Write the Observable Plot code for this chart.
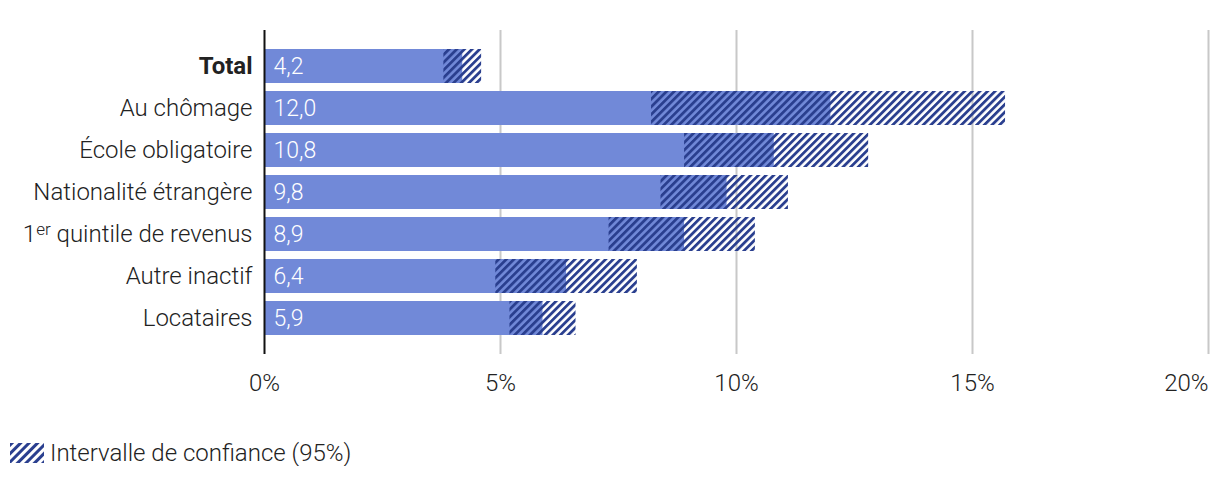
<!DOCTYPE html>
<html><head><meta charset="utf-8">
<script src="https://cdn.jsdelivr.net/npm/d3@7"></script>
<script src="https://cdn.jsdelivr.net/npm/@observablehq/plot@0.6"></script>
<style>
body{margin:0;background:#fff;font-family:Roboto,sans-serif;}
#legend{display:flex;align-items:center;height:26px;margin-top:30px;margin-left:10px;font-size:24px;color:#222;font-weight:300;}
#legend svg{margin-right:6px;}
</style></head><body><div id="chart"></div><div id="legend"></div>
<script>
const categories = ["Total","Au chômage","École obligatoire","Nationalité étrangère","1er quintile de revenus","Autre inactif","Locataires"];
const values = [4.2,12.0,10.8,9.8,8.9,6.4,5.9];
const ciLow = [3.8,8.2,8.9,8.4,7.3,4.9,5.2];
const ciHigh = [4.6,15.7,12.8,11.1,10.4,7.9,6.6];
const xTicks = [0,5,10,15,20];
const gridTicks = [5,10,15,20];
const legendLabel = "Intervalle de confiance (95%)";

const barColor = "#7189d8";
const hatchColor = "#2a3f8f";

const data = categories.map((c,i)=>({cat:c, value:values[i], lo:ciLow[i], hi:ciHigh[i]}));

const chart = Plot.plot({
  width:1220, height:410, marginLeft:264, marginRight:12, marginTop:30, marginBottom:56,
  style:{fontFamily:"Roboto, sans-serif", fontSize:"24px", color:"#222", background:"#fff"},
  x:{domain:[0,20], ticks:xTicks, tickFormat:d=>d+"%", label:null, tickSize:0, tickPadding:19},
  y:{domain:categories, label:null, tickSize:0, tickPadding:12, paddingInner:0.19, paddingOuter:0.45},
  marks:[
    Plot.ruleX(gridTicks,{stroke:"#c8c8c8", strokeWidth:2}),
    Plot.barX(data,{x:"value", y:"cat", fill:barColor}),
    Plot.barX(data,{x1:"lo", x2:"hi", y:"cat", fill:"url(#hatch)"}),
    Plot.ruleX([0],{stroke:"#111", strokeWidth:2}),
    Plot.text(data,{x:0, y:"cat", text:d=>d.value.toFixed(1).replace(".",","), dx:9, textAnchor:"start", fill:"#fff", fontSize:23, fontWeight:300})
  ]
});

const patternDef = `<defs><pattern id="hatch" patternUnits="userSpaceOnUse" width="5.4" height="5.4" patternTransform="rotate(45)"><rect width="2.8" height="5.4" fill="${hatchColor}"/></pattern></defs>`;
chart.insertAdjacentHTML("afterbegin", patternDef);

const xt = d3.select(chart).selectAll('g[aria-label="x-axis tick label"] text').attr("font-weight",300).attr("fill","#222");
xt.filter((d,i,n)=>i===n.length-1).attr("text-anchor","end").attr("dx","0");
xt.filter((d,i)=>i===0).attr("text-anchor","middle");
d3.select(chart).selectAll('g[aria-label="y-axis tick label"] text').each(function(){
  const t = d3.select(this);
  const s = this.textContent;
  t.attr("fill","#222").attr("font-weight",300);
  if (s === "Total") t.attr("font-weight","bold");
  if (s.startsWith("1er")) {
    t.text("");
    t.append("tspan").text("1");
    t.append("tspan").attr("font-size","17").attr("dy","-0.45em").text("er");
    t.append("tspan").attr("dy","0.32em").text(s.slice(3));
  }
});
document.getElementById("chart").appendChild(chart);

document.getElementById("legend").innerHTML =
  `<svg width="34" height="20"><defs><pattern id="hatch2" patternUnits="userSpaceOnUse" width="6" height="6" patternTransform="rotate(45)"><rect width="3" height="6" fill="${hatchColor}"/></pattern></defs><rect width="34" height="20" fill="url(#hatch2)"/></svg><span>${legendLabel}</span>`;
</script></body></html>
